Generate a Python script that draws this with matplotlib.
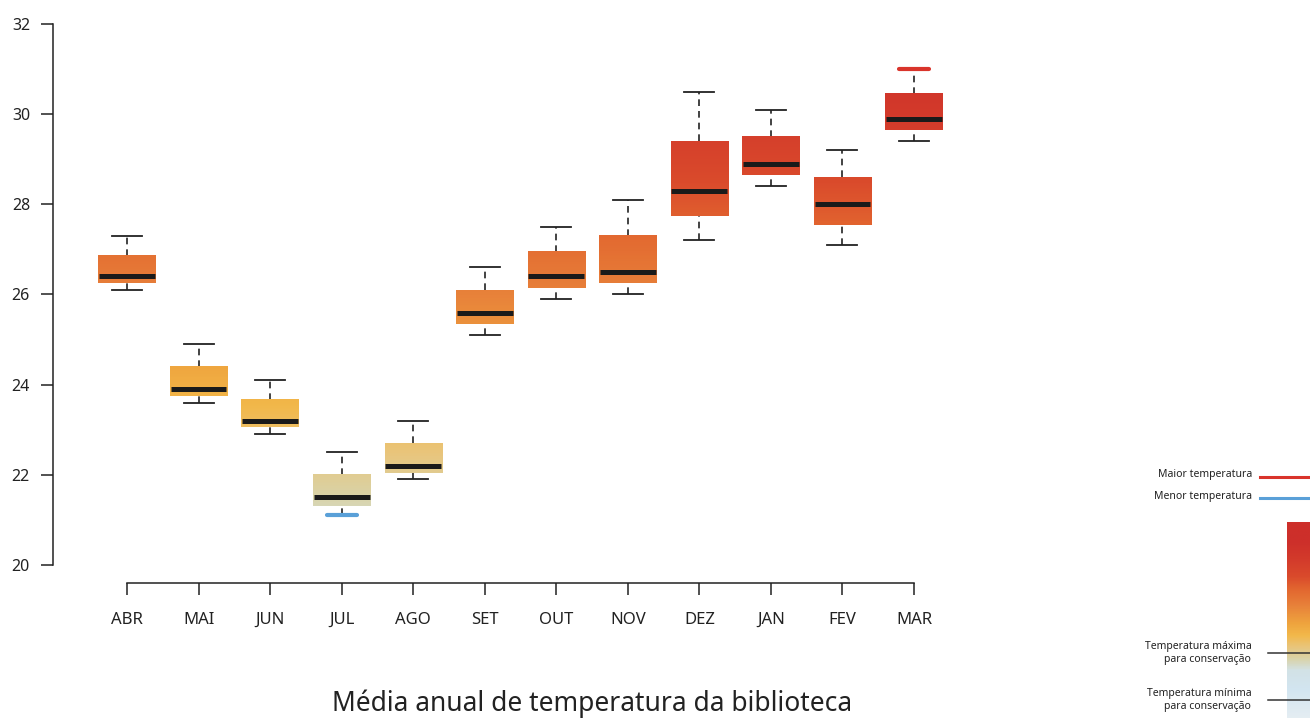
import numpy as np
import matplotlib.pyplot as plt
from matplotlib.colors import LinearSegmentedColormap, Normalize
from matplotlib.lines import Line2D

plt.rcParams['font.family'] = ['Noto Sans', 'DejaVu Sans']

# monthly temperature summary (deg C)
months = ["ABR", "MAI", "JUN", "JUL", "AGO", "SET", "OUT", "NOV", "DEZ", "JAN", "FEV", "MAR"]
t_min = [26.1, 23.6, 22.9, 21.1, 21.9, 25.1, 25.9, 26.0, 27.2, 28.4, 27.1, 29.4]
t_q1 = [26.25, 23.75, 23.05, 21.3, 22.05, 25.35, 26.15, 26.25, 27.75, 28.65, 27.55, 29.65]
t_med = [26.4, 23.9, 23.2, 21.5, 22.2, 25.6, 26.4, 26.5, 28.3, 28.9, 28.0, 29.9]
t_q3 = [26.85, 24.4, 23.65, 22.0, 22.7, 26.1, 26.95, 27.3, 29.4, 29.5, 28.6, 30.45]
t_max = [27.3, 24.9, 24.1, 22.5, 23.2, 26.6, 27.5, 28.1, 30.5, 30.1, 29.2, 31.0]

# conservation limits shown on the colour scale
conserv_max = 22
conserv_min = 18

# temperature colour scale
scale_temps = [16.0, 19.0, 20.5, 21.5, 22.5, 23.5, 24.5, 26.0, 27.5, 28.5, 30.0, 31.5]
scale_colors = ["#e8eff3", "#d2e5f0", "#d3e2e6", "#d9d3a8", "#e9c57b", "#f2b84a",
                "#efa43e", "#e8823a", "#e2652f", "#da4b2c", "#d33a2b", "#cd2f2a"]
tmin_s, tmax_s = scale_temps[0], scale_temps[-1]
cmap = LinearSegmentedColormap.from_list(
    "temp", [((t - tmin_s) / (tmax_s - tmin_s), c) for t, c in zip(scale_temps, scale_colors)])
norm = Normalize(tmin_s, tmax_s)

fig = plt.figure(figsize=(13.1, 7.18), dpi=100)
ax = fig.add_axes([53 / 1310, 135 / 718, 932 / 1310, 559 / 718])

x = np.arange(1, len(months) + 1)
half = 0.4
cap = 0.21
for i, xi in enumerate(x):
    # gradient fill of the box, coloured by temperature
    grad = np.linspace(t_q1[i], t_q3[i], 60).reshape(-1, 1)
    ax.imshow(grad, cmap=cmap, norm=norm, origin="lower", aspect="auto",
              extent=[xi - half, xi + half, t_q1[i], t_q3[i]], zorder=2)
    ax.plot([xi - half + 0.01, xi + half - 0.01], [t_med[i]] * 2, color="#1a1a1a",
            lw=3.6, solid_capstyle="butt", zorder=4)
    ax.plot([xi, xi], [t_q3[i], t_max[i]], color="#222222", lw=1.2, ls=(0, (4, 3)), zorder=1)
    ax.plot([xi, xi], [t_min[i], t_q1[i]], color="#222222", lw=1.2, ls=(0, (4, 3)), zorder=1)
    ax.plot([xi - cap, xi + cap], [t_max[i]] * 2, color="#222222", lw=1.3, zorder=3)
    ax.plot([xi - cap, xi + cap], [t_min[i]] * 2, color="#222222", lw=1.3, zorder=3)

# highlight highest and lowest readings of the year
i_hi = int(np.argmax(t_max))
i_lo = int(np.argmin(t_min))
ax.plot([x[i_hi] - cap, x[i_hi] + cap], [t_max[i_hi]] * 2, color="#d9342b", lw=3,
        solid_capstyle="round", zorder=5)
ax.plot([x[i_lo] - cap, x[i_lo] + cap], [t_min[i_lo]] * 2, color="#5aa0d8", lw=3,
        solid_capstyle="round", zorder=5)

ax.set_xlim(1 - 74 / 71.55, 12 + 71 / 71.55)
ax.set_ylim(20 - 18 / 45.08, 32)
ax.set_yticks(range(20, 33, 2))
ax.set_xticks(x)
ax.set_xticklabels(months)
for s in ["top", "right"]:
    ax.spines[s].set_visible(False)
ax.spines["left"].set_bounds(20, 32)
ax.spines["bottom"].set_bounds(1, 12)
for s in ["left", "bottom"]:
    ax.spines[s].set_linewidth(1.1)
    ax.spines[s].set_color("#222222")
ax.tick_params(axis="y", length=8.6, width=1.1, color="#222222", labelsize=11.5,
               labelcolor="#222222", pad=8)
ax.tick_params(axis="x", length=8.6, width=1.1, color="#222222", labelsize=12,
               labelcolor="#222222", pad=12)

fig.text(592 / 1310, 14 / 718, "Média anual de temperatura da biblioteca", ha="center",
         va="center", fontsize=19, color="#222222")

# colour scale legend on the right
lax = fig.add_axes([1287 / 1310, 0, 23 / 1310, 196 / 718])
bar_top, bar_bot = 33.1, 16.5
bar = np.linspace(bar_bot, bar_top, 200).reshape(-1, 1)
lax.imshow(bar, cmap=cmap, norm=norm, origin="lower", aspect="auto",
           extent=[0, 1, bar_bot, bar_top])
lax.set_xlim(0, 1)
lax.set_ylim(bar_bot, bar_top)
lax.axis("off")
for t, lbl in [(conserv_max, "Temperatura máxima\npara conservação"),
               (conserv_min, "Temperatura mínima\npara conservação")]:
    lax.plot([-0.83, 1], [t, t], color="#333333", lw=1.1, clip_on=False)
    lax.text(-1.55, t, lbl, ha="right", va="center", fontsize=7.5, color="#222222",
             linespacing=1.25)

fig.add_artist(Line2D([1260 / 1310, 1], [241 / 718] * 2, color="#d9342b", lw=2.2))
fig.add_artist(Line2D([1260 / 1310, 1], [220 / 718] * 2, color="#5aa0d8", lw=2.2))
fig.text(1252 / 1310, 243 / 718, "Maior temperatura", ha="right", va="center",
         fontsize=7.5, color="#222222")
fig.text(1252 / 1310, 222 / 718, "Menor temperatura", ha="right", va="center",
         fontsize=7.5, color="#222222")

fig.savefig("out.png", dpi=100)
